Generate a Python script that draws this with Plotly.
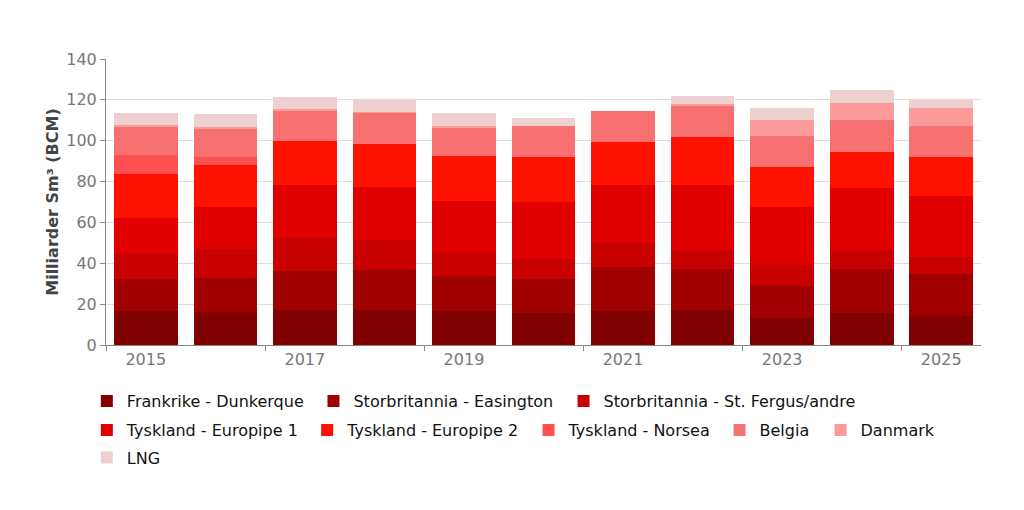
import plotly.graph_objects as go

years = ["2015", "2016", "2017", "2018", "2019", "2020", "2021", "2022", "2023", "2024", "2025"]

frankrike_dunkerque = [16.6, 16.3, 17.1, 17.1, 16.6, 15.7, 16.6, 17.1, 13.2, 15.7, 14.2]
storbritannia_easington = [15.7, 16.5, 19.1, 19.6, 17.2, 16.6, 21.6, 20.1, 15.7, 21.5, 20.6]
storbritannia_stfergus = [12.4, 14.2, 16.3, 14.7, 11.2, 9.8, 11.7, 9.3, 10.3, 9.3, 8.3]
tyskland_europipe1 = [17.5, 20.5, 25.8, 25.9, 25.5, 27.9, 28.4, 31.8, 28.3, 30.3, 29.8]
tyskland_europipe2 = [21.5, 20.6, 21.6, 21.1, 22.0, 22.0, 21.1, 23.5, 19.6, 17.7, 19.1]
tyskland_norsea = [9.3, 3.9, 0, 0, 0, 0, 0, 0, 0, 0, 0]
belgia = [14.2, 14.2, 15.1, 15.2, 14.2, 15.2, 15.1, 15.2, 15.2, 15.6, 15.2]
danmark = [0.5, 0.5, 0.5, 0.4, 0.5, 0, 0, 1.0, 7.8, 8.4, 8.8]
lng = [5.9, 6.4, 5.9, 6.4, 6.4, 3.9, 0, 3.9, 5.9, 6.3, 4.4]

series_names = [
    "Frankrike - Dunkerque", "Storbritannia - Easington", "Storbritannia - St. Fergus/andre",
    "Tyskland - Europipe 1", "Tyskland - Europipe 2", "Tyskland - Norsea",
    "Belgia", "Danmark", "LNG",
]
series_values = [
    frankrike_dunkerque, storbritannia_easington, storbritannia_stfergus,
    tyskland_europipe1, tyskland_europipe2, tyskland_norsea,
    belgia, danmark, lng,
]
colors = ["#800000", "#a00000", "#c80000", "#e00000", "#ff1100", "#ff5050", "#f87171", "#fc9999", "#eed0d0"]

# legend entry placement (paper x, paper y) so rows wrap like the reference
legend_pos = [
    (-0.0219, -0.196), (0.2371, -0.196), (0.5229, -0.196),
    (-0.0219, -0.2975), (0.2299, -0.2975), (0.4829, -0.2975), (0.7012, -0.2975), (0.8166, -0.2975),
    (-0.0219, -0.394),
]

fig = go.Figure()
legend_layout = {}
for i, (name, vals, col, pos) in enumerate(zip(series_names, series_values, colors, legend_pos)):
    lg = "legend" if i == 0 else f"legend{i + 1}"
    fig.add_trace(go.Bar(x=years, y=vals, name=name, legend=lg, showlegend=True,
                         marker=dict(color=col, line=dict(width=0))))
    legend_layout[lg] = dict(
        orientation="h", x=pos[0], xanchor="left", y=pos[1], yanchor="middle",
        font=dict(family="DejaVu Sans", size=16, color="#111111"),
        bgcolor="rgba(0,0,0,0)",
    )

fig.update_layout(
    showlegend=True,
    barmode="stack",
    bargap=0.2,
    width=1024, height=510,
    paper_bgcolor="white", plot_bgcolor="white",
    margin=dict(l=98, r=51, t=51, b=173),
    font=dict(family="DejaVu Sans", size=16, color="#777777"),
    xaxis=dict(
        type="category", dtick=2, tickson="boundaries", ticks="outside", ticklen=5,
        tickcolor="#888888", showline=True, linecolor="#888888", showgrid=False,
        tickfont=dict(size=16, color="#777777"),
    ),
    yaxis=dict(
        range=[0, 140], dtick=20, ticks="outside", ticklen=5, tickcolor="#888888",
        showline=True, linecolor="#888888", gridcolor="#dddddd", zeroline=False,
        tickfont=dict(size=16, color="#777777"),
        title=dict(text="<b>Milliarder Sm³ (BCM)</b>", font=dict(size=16, color="#444444"), standoff=3),
    ),
    **legend_layout,
)

fig.write_html("out.html")
